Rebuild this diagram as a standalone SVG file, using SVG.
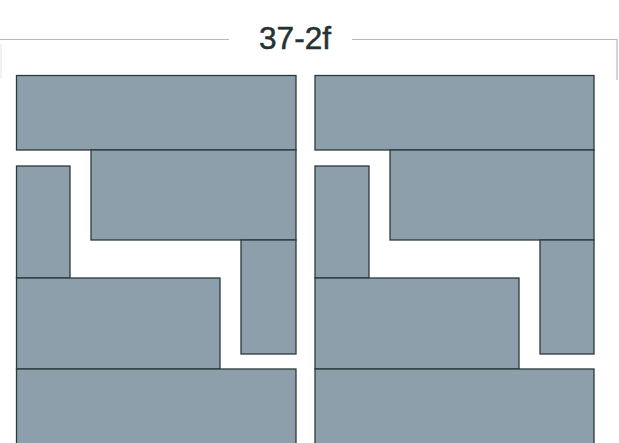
<svg xmlns="http://www.w3.org/2000/svg" width="619" height="443" viewBox="0 0 619 443">
<style>
.b{fill:#8d9fab;stroke:#2c3a3c;stroke-width:1.3}
.f{fill:none;stroke:#b4b9c6;stroke-width:1.2}
.t{font-family:"Liberation Sans",Arial,sans-serif;font-size:31px;fill:#263232;stroke:#263232;stroke-width:0.5;text-anchor:middle}
</style>
<rect width="619" height="443" fill="#ffffff"/>
<g id="frame">
<path class="f" d="M0,39.5 H229 M352,39.5 H617 V80"/>
<path d="M1,44 V78" fill="none" stroke="#e2e4ea" stroke-width="1"/>
</g>
<text class="t" x="295" y="48.5" textLength="72" lengthAdjust="spacingAndGlyphs">37-2f</text>
<g id="left-panel">
<rect id="l1" class="b" x="16.5" y="75.5" width="279.5" height="74.5"/>
<rect id="l2" class="b" x="91" y="150" width="205" height="90"/>
<rect id="l3" class="b" x="16.5" y="166" width="53.5" height="112"/>
<rect id="l4" class="b" x="241" y="240" width="55" height="114"/>
<rect id="l5" class="b" x="16.5" y="278" width="203.5" height="91"/>
<rect id="l6" class="b" x="16.5" y="369" width="279.5" height="80"/>
</g>
<g id="right-panel">
<rect id="r1" class="b" x="315" y="75.5" width="279" height="74.5"/>
<rect id="r2" class="b" x="390" y="150" width="204" height="90"/>
<rect id="r3" class="b" x="315" y="166" width="54" height="112"/>
<rect id="r4" class="b" x="540" y="240" width="54" height="114"/>
<rect id="r5" class="b" x="315" y="278" width="204" height="91"/>
<rect id="r6" class="b" x="315" y="369" width="279" height="80"/>
</g>
</svg>
